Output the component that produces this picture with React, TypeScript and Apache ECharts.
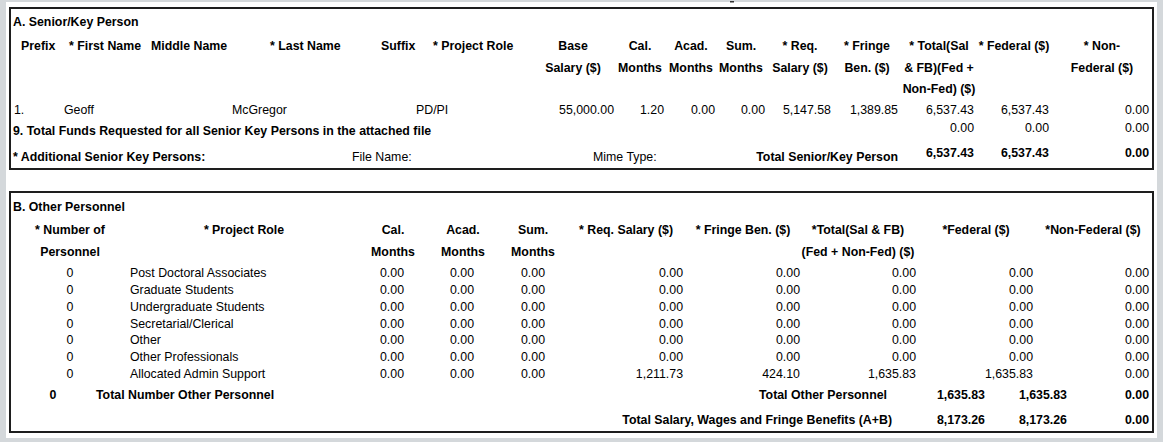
import React, { useEffect, useRef } from "react";
import * as echarts from "echarts";

// ---------- Section A data ----------
const sectionATitle = "A. Senior/Key Person";
const keyPersonNameHeaders = ["Prefix", "* First Name", "Middle Name", "* Last Name", "Suffix", "* Project Role"];
const keyPersonValueHeaders = [
  ["Base", "Salary ($)"],
  ["Cal.", "Months"],
  ["Acad.", "Months"],
  ["Sum.", "Months"],
  ["* Req.", "Salary ($)"],
  ["* Fringe", "Ben. ($)"],
  ["* Total(Sal", "& FB)(Fed +", "Non-Fed) ($)"],
  ["* Federal ($)"],
  ["* Non-", "Federal ($)"],
];
const keyPersonNames = ["1.", "Geoff", "", "McGregor", "", "PD/PI"];
const keyPersonValues = [55000, 1.2, 0, 0, 5147.58, 1389.85, 6537.43, 6537.43, 0];
const attachedFileLabel = "9. Total Funds Requested for all Senior Key Persons in the attached file";
const attachedFileTotals = [0, 0, 0];
const additionalLabel = "* Additional Senior Key Persons:";
const fileNameLabel = "File Name:";
const mimeTypeLabel = "Mime Type:";
const seniorTotalLabel = "Total Senior/Key Person";
const seniorTotals = [6537.43, 6537.43, 0];

// ---------- Section B data ----------
const sectionBTitle = "B. Other Personnel";
const otherHeaders = [
  ["* Number of", "Personnel"],
  ["* Project Role"],
  ["Cal.", "Months"],
  ["Acad.", "Months"],
  ["Sum.", "Months"],
  ["* Req. Salary ($)"],
  ["* Fringe Ben. ($)"],
  ["*Total(Sal & FB)", "(Fed + Non-Fed) ($)"],
  ["*Federal ($)"],
  ["*Non-Federal ($)"],
];
const otherRoles = [
  "Post Doctoral Associates",
  "Graduate Students",
  "Undergraduate Students",
  "Secretarial/Clerical",
  "Other",
  "Other Professionals",
  "Allocated Admin Support",
];
const otherCounts = [0, 0, 0, 0, 0, 0, 0];
const otherCal = [0, 0, 0, 0, 0, 0, 0];
const otherAcad = [0, 0, 0, 0, 0, 0, 0];
const otherSum = [0, 0, 0, 0, 0, 0, 0];
const otherReqSalary = [0, 0, 0, 0, 0, 0, 1211.73];
const otherFringe = [0, 0, 0, 0, 0, 0, 424.1];
const otherTotal = [0, 0, 0, 0, 0, 0, 1635.83];
const otherFederal = [0, 0, 0, 0, 0, 0, 1635.83];
const otherNonFederal = [0, 0, 0, 0, 0, 0, 0];
const otherCountTotal = 0;
const otherCountLabel = "Total Number Other Personnel";
const otherTotalLabel = "Total Other Personnel";
const otherTotals = [1635.83, 1635.83, 0];
const grandTotalLabel = "Total Salary, Wages and Fringe Benefits (A+B)";
const grandTotals = [8173.26, 8173.26, 0];

const FONT = "'Liberation Sans', Arial, Helvetica, sans-serif";
const FS = 12.35;
const DY = 1;
const fmt = (v: number) =>
  v.toLocaleString("en-US", { minimumFractionDigits: 2, maximumFractionDigits: 2 });

function txt(text: string, x: number, y: number, align = "left", bold = false): any {
  return {
    type: "text",
    x,
    y: y + DY,
    silent: true,
    style: {
      text,
      fontFamily: FONT,
      fontSize: FS,
      fontWeight: bold ? "bold" : "normal",
      fill: "#000",
      align,
      verticalAlign: "middle",
    },
  };
}

function buildGraphics(): any[] {
  const g: any[] = [];
  // page frame
  g.push({ type: "rect", shape: { x: 0, y: 0, width: 1163, height: 442 }, style: { fill: "#d4d8db" }, silent: true });
  g.push({ type: "rect", shape: { x: 6, y: 2, width: 1151, height: 436 }, style: { fill: "#ffffff" }, silent: true });
  g.push({ type: "rect", shape: { x: 730, y: 1, width: 4, height: 1.5 }, style: { fill: "#333" }, silent: true });
  // boxes
  const boxStyle = { fill: "none", stroke: "#1e1e1e", lineWidth: 2 };
  g.push({ type: "rect", shape: { x: 10, y: 8, width: 1143, height: 161 }, style: boxStyle, silent: true });
  g.push({ type: "rect", shape: { x: 10, y: 192, width: 1143, height: 240 }, style: boxStyle, silent: true });

  // ----- Section A -----
  g.push(txt(sectionATitle, 13, 21, "left", true));
  const nameHeaderX = [21, 69, 151, 270, 381, 433];
  keyPersonNameHeaders.forEach((h, i) => g.push(txt(h, nameHeaderX[i], 45, "left", true)));
  const valHeaderCx = [573, 640, 691, 741, 800, 867, 939, 1014, 1102];
  const headerRowY = [45, 67, 88];
  keyPersonValueHeaders.forEach((lines, i) =>
    lines.forEach((l, j) => g.push(txt(l, valHeaderCx[i], headerRowY[j], "center", true)))
  );
  const nameX = [14, 64, 151, 232, 381, 416];
  keyPersonNames.forEach((n, i) => n && g.push(txt(n, nameX[i], 109)));
  const valRightX = [614, 664, 715, 765, 831, 898, 974, 1049, 1149];
  keyPersonValues.forEach((v, i) => g.push(txt(fmt(v), valRightX[i], 109, "right")));
  const totRightX = [974, 1049, 1149];
  g.push(txt(attachedFileLabel, 13, 130, "left", true));
  attachedFileTotals.forEach((v, i) => g.push(txt(fmt(v), totRightX[i], 127, "right")));
  g.push(txt(additionalLabel, 13, 156, "left", true));
  g.push(txt(fileNameLabel, 352, 156));
  g.push(txt(mimeTypeLabel, 593, 156));
  g.push(txt(seniorTotalLabel, 898, 156, "right", true));
  seniorTotals.forEach((v, i) => g.push(txt(fmt(v), totRightX[i], 152, "right", true)));

  // ----- Section B -----
  g.push(txt(sectionBTitle, 13, 206, "left", true));
  const bHeaderCx = [70, 244, 393, 463, 533, 626, 743, 858, 976, 1093];
  const bHeaderY = [229, 251];
  otherHeaders.forEach((lines, i) =>
    lines.forEach((l, j) => g.push(txt(l, bHeaderCx[i], bHeaderY[j], "center", true)))
  );
  const rowY0 = 272;
  const rowStep = 16.85;
  const cols = [otherCal, otherAcad, otherSum, otherReqSalary, otherFringe, otherTotal, otherFederal, otherNonFederal];
  const colRightX = [404, 474, 545, 683, 800, 916, 1033, 1149];
  otherRoles.forEach((role, r) => {
    const y = rowY0 + r * rowStep;
    g.push(txt(String(otherCounts[r]), 70, y, "center"));
    g.push(txt(role, 130, y));
    cols.forEach((c, k) => g.push(txt(fmt(c[r]), colRightX[k], y, "right")));
  });
  const bTotRightX = [985, 1067, 1149];
  g.push(txt(String(otherCountTotal), 53, 394, "center", true));
  g.push(txt(otherCountLabel, 96, 394, "left", true));
  g.push(txt(otherTotalLabel, 887, 394, "right", true));
  otherTotals.forEach((v, i) => g.push(txt(fmt(v), bTotRightX[i], 394, "right", true)));
  g.push(txt(grandTotalLabel, 892, 419, "right", true));
  grandTotals.forEach((v, i) => g.push(txt(fmt(v), bTotRightX[i], 419, "right", true)));
  return g;
}

export default function App() {
  const ref = useRef<HTMLDivElement>(null);
  useEffect(() => {
    if (!ref.current) return;
    const chart = echarts.init(ref.current, undefined, { renderer: "svg" });
    chart.setOption({
      animation: false,
      backgroundColor: "#ffffff",
      graphic: { elements: buildGraphics() },
    });
    return () => chart.dispose();
  }, []);
  return (
    <div
      ref={ref}
      style={{ position: "fixed", left: 0, top: 0, width: 1163, height: 442 }}
    />
  );
}
